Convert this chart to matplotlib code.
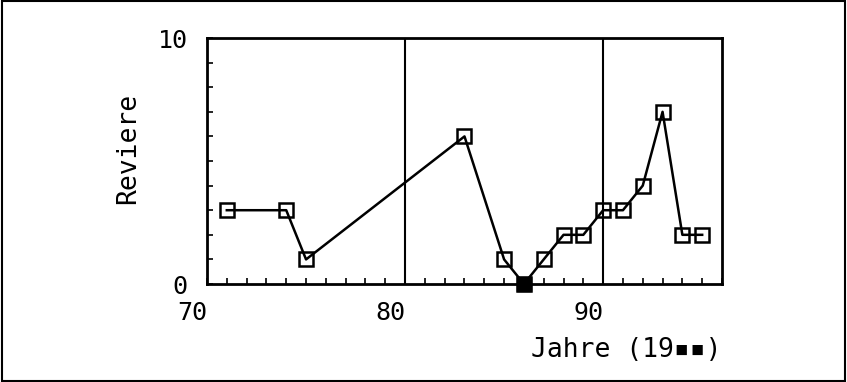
import matplotlib
matplotlib.use("Agg")
import matplotlib.pyplot as plt
from matplotlib.patches import Rectangle

jahre = [71, 74, 75, 83, 85, 86, 87, 88, 89, 90, 91, 92, 93, 94, 95]
reviere = [3, 3, 1, 6, 1, 0, 1, 2, 2, 3, 3, 4, 7, 2, 2]
trennlinien = [80, 90]
x_ticks = [70, 80, 90]
y_ticks = [0, 10]

plt.rcParams["font.family"] = ["DejaVu Sans Mono", "DejaVu Sans"]

fig = plt.figure(figsize=(8.47, 3.82), dpi=100)
ax = fig.add_axes([0.2444, 0.2565, 0.608, 0.644])

for v in trennlinien:
    ax.axvline(v, color="black", lw=1.5)

ax.plot(jahre, reviere, color="black", lw=1.8, marker="s", ms=10.5,
        mfc="none", mec="black", mew=1.8, clip_on=False, zorder=3)
# Punkte auf der Nulllinie erscheinen im Original gefuellt
null_x = [x for x, y in zip(jahre, reviere) if y == 0]
null_y = [y for y in reviere if y == 0]
ax.plot(null_x, null_y, ls="none", marker="s", ms=10.5, mfc="black",
        mec="black", clip_on=False, zorder=4)

ax.set_xlim(70, 96)
ax.set_ylim(0, 10)
ax.set_xticks(x_ticks)
ax.set_xticks(range(70, 97), minor=True)
ax.set_yticks(y_ticks)
ax.set_yticks(range(0, 11), minor=True)
ax.set_xticklabels([str(t) for t in x_ticks], ha="right")
ax.tick_params(axis="x", which="both", direction="in", length=4, width=1.2,
               pad=12, labelsize=18, top=False)
ax.tick_params(axis="y", which="both", direction="in", length=4, width=1.2,
               pad=14, labelsize=18, right=False)
for s in ax.spines.values():
    s.set_linewidth(2)

ax.set_ylabel("Reviere", fontsize=19, labelpad=12, y=0.55)
ax.set_xlabel("Jahre (19\u25aa\u25aa)", fontsize=19, ha="right", x=1.0,
              labelpad=9)

fig.patches.append(Rectangle((0.002, 0.003), 0.996, 0.994,
                             transform=fig.transFigure, fill=False,
                             ec="black", lw=1.5))

fig.savefig("out.png", dpi=100)
